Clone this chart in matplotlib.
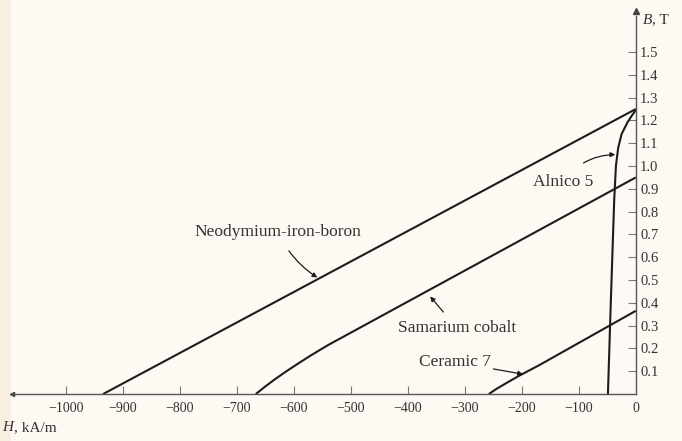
import matplotlib.pyplot as plt
import matplotlib.ticker as mticker

# Demagnetization curves (second quadrant), H in kA/m, B in T
ndfeb_H = [-935, 0]
ndfeb_B = [0.0, 1.25]

smco_H = [-667, -652, -635, -615, -595, -570, -540, 0]
smco_B = [0.0, 0.030, 0.062, 0.097, 0.130, 0.170, 0.215, 0.95]

ceramic_H = [-258, -245, -228, -205, -170, 0]
ceramic_B = [0.0, 0.022, 0.047, 0.080, 0.126, 0.365]

alnico_H = [-49, -44, -38, -35, -31, -25, -15, -6, 0]
alnico_B = [0.0, 0.40, 0.85, 1.00, 1.08, 1.14, 1.19, 1.225, 1.245]

h_ticks = list(range(-1000, 1, 100))
b_ticks = [round(0.1 * i, 1) for i in range(1, 16)]

BG = "#FCFAF2"
INK = "#1c1c1c"
TXT = "#333333"

plt.rcParams["font.family"] = ["Liberation Serif", "DejaVu Serif"]
fig = plt.figure(figsize=(6.82, 4.41), dpi=100, facecolor=BG)
ax = fig.add_axes([0, 0, 1, 1])
ax.set_facecolor(BG)
ax.set_xlim(-1116, 81)
ax.set_ylim(-0.206, 1.728)

# slightly warmer strip along the left edge of the page
ax.add_patch(plt.Rectangle((0, 0), 0.016, 1, transform=ax.transAxes,
                           facecolor="#F8EFE3", edgecolor="none", zorder=0))

# axes through the origin: H along the bottom, B on a right-hand spine at H=0
for side in ["top", "left"]:
    ax.spines[side].set_visible(False)
ax.spines["bottom"].set_position(("data", 0))
ax.spines["right"].set_position(("data", 0))
ax.spines["bottom"].set_bounds(-1095, 0)
ax.spines["right"].set_bounds(0, 1.66)
for side in ["bottom", "right"]:
    ax.spines[side].set_color("#555555")
    ax.spines[side].set_linewidth(1.0)

ax.yaxis.tick_right()
ax.set_xticks(h_ticks)
ax.set_yticks(b_ticks)
ax.xaxis.set_major_formatter(mticker.FuncFormatter(lambda v, _: f"\u2212{-v:.0f}" if v < 0 else "0"))
ax.yaxis.set_major_formatter(mticker.FormatStrFormatter("%.1f"))
ax.tick_params(axis="x", direction="in", length=6, width=0.8, color="#777777",
               labelsize=10, labelcolor=TXT, pad=6)
ax.tick_params(axis="y", direction="in", length=6, width=0.8, color="#777777",
               labelsize=10.5, labelcolor=TXT, pad=3)
ax.xaxis.get_major_ticks()[-1].tick1line.set_visible(False)

# arrow tip on B axis, dot at the far end of H axis
ax.plot([0], [1.68], marker="^", markersize=4, color="#444444", clip_on=False)
ax.plot([-1095], [0], marker="<", markersize=3, color="#444444")

ax.text(12, 1.64, "B", fontsize=11, style="italic", color=TXT, ha="left", va="center", zorder=5)
ax.text(29, 1.64, ", T", fontsize=11, color=TXT, ha="left", va="center", zorder=5)
ax.text(-1112, -0.148, "H", fontsize=11, style="italic", color=TXT, ha="left", va="center", zorder=5)
ax.text(-1091, -0.148, ", kA/m", fontsize=11, color=TXT, ha="left", va="center", zorder=5)

# curves
for H, B in [(ndfeb_H, ndfeb_B), (smco_H, smco_B), (ceramic_H, ceramic_B), (alnico_H, alnico_B)]:
    ax.plot(H, B, color=INK, linewidth=1.5, solid_capstyle="butt")

# curve labels with leader arrows
arrow = dict(arrowstyle="-|>", color=INK, lw=0.9, mutation_scale=7)
ax.annotate("Neodymium-iron-boron", xy=(-559, 0.511), xytext=(-628, 0.711),
            fontsize=12.5, color=TXT, ha="center", va="center",
            arrowprops=dict(arrow, connectionstyle="arc3,rad=0.15", shrinkA=7, shrinkB=0))
ax.annotate("Samarium cobalt", xy=(-361, 0.428), xytext=(-314, 0.289),
            fontsize=12.5, color=TXT, ha="center", va="center",
            arrowprops=dict(arrow, connectionstyle="arc3,rad=0.0", shrinkA=5, shrinkB=0))
ax.annotate("Ceramic 7", xy=(-198, 0.087), xytext=(-318, 0.14),
            fontsize=12.5, color=TXT, ha="center", va="center",
            arrowprops=dict(arrow, connectionstyle="arc3,rad=0.0", shrinkA=42, shrinkB=0))
ax.annotate("Alnico 5", xy=(-36, 1.05), xytext=(-128, 0.93),
            fontsize=12.5, color=TXT, ha="center", va="center",
            arrowprops=dict(arrow, connectionstyle="arc3,rad=-0.25", shrinkA=10, shrinkB=0))

fig.savefig("out.png", dpi=100, facecolor=BG)
